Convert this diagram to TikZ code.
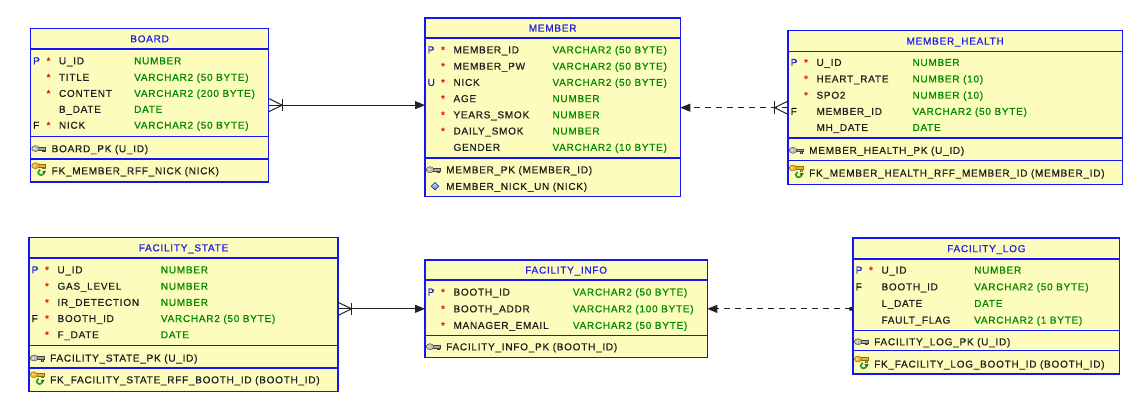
\documentclass[tikz,border=0pt]{standalone}
\usepackage{fontspec}
\newfontfamily\erfont{Liberation Sans}[LetterSpace=7.5,FakeBold=0.7]
\usetikzlibrary{arrows.meta,calc}

\definecolor{tblfill}{RGB}{252,252,188}
\definecolor{tblline}{RGB}{20,20,245}
\definecolor{titleblue}{RGB}{30,30,235}
\definecolor{typegreen}{RGB}{0,135,0}
\definecolor{starred}{RGB}{230,30,30}
\definecolor{linkgray}{RGB}{35,35,35}
\definecolor{keygray}{RGB}{170,170,165}
\definecolor{keygold}{RGB}{232,182,40}
\definecolor{fkgreen}{RGB}{40,160,40}

% table frame: id, left, top, right, bottom
\newcommand\ertable[5]{%
  \node[tbl, minimum width={#4-#2}, minimum height={#5-#3}] (#1)
    at ({(#2+#4)/2},{(#3+#5)/2}) {};}
% horizontal divider inside a table
\newcommand\divider[2]{\draw[sepline] (#1.west |- 0,#2) -- (#1.east |- 0,#2);}
% table caption: id, text, centre y
\newcommand\ertitle[3]{\node[title] (#1-title) at ($(#1.center |- 0,#3)+(0,3.6)$) {#2};}
% column row: id, left, type x, centre y, flag, mandatory mark, name, type
\newcommand\attr[8]{%
  \if\relax\detokenize{#5}\relax\else
    \node[flag#5] (#1-flag) at ({#2+2.5},{#4+3.6}) {#5};\fi
  \if\relax\detokenize{#6}\relax\else
    \node[star] (#1-req) at ({#2+18},{#4+3.6}) {*};\fi
  \node[colname] (#1-name) at ({#2+28.3},{#4+3.6}) {#7};
  \node[coltype] (#1-type) at ({#3},{#4+3.6}) {#8};}
% key row: id, left, centre y, icon, text
\newcommand\keyrow[5]{%
  \pic at ({#2},{#3}) {#4};
  \node[keytext] (#1) at ({#2+21},{#3+3.6}) {#5};}
% crow's foot with bar: point, direction (+1 right, -1 left)
\newcommand\crowfoot[2]{%
  \draw[rel] ($(#1)+(0,-6.6)$) -- ($(#1)+(#2*13.5,0)$) -- ($(#1)+(0,6.6)$);
  \draw[rel] ($(#1)+(#2*13.5,-6.2)$) -- ($(#1)+(#2*13.5,6.2)$);}

\begin{document}
\begin{tikzpicture}[x=1pt,y=-1pt,
  font=\erfont\fontsize{10}{12}\selectfont,
  tbl/.style={draw=tblline, fill=tblfill, line width=1.1pt, inner sep=0pt, outer sep=0pt},
  sepline/.style={draw=tblline, line width=1.1pt},
  title/.style={anchor=base, text=titleblue, inner sep=0pt},
  flagP/.style={anchor=base west, inner sep=0pt, text=titleblue},
  flagU/.style={anchor=base west, inner sep=0pt, text=titleblue},
  flagF/.style={anchor=base west, inner sep=0pt, text=black},
  star/.style={anchor=base, text=starred, inner sep=0pt},
  colname/.style={anchor=base west, inner sep=0pt, text=black!88},
  coltype/.style={anchor=base west, inner sep=0pt, text=typegreen},
  keytext/.style={anchor=base west, inner sep=0pt, text=black!88},
  rel/.style={draw=linkgray, line width=1pt},
  fkdash/.style={dash pattern=on 6pt off 5pt},
  tip/.style={-{Triangle[length=10pt,width=8pt]}},
  pkicon/.pic={
    \filldraw[fill=keygray, draw=gray!50!black, line width=0.4pt] (7,-1.4) rectangle (15,1.4);
    \filldraw[fill=keygray, draw=gray!50!black, line width=0.4pt] (12,1.4) rectangle (14.5,2.9);
    \filldraw[fill=keygray!80, draw=gray!50!black, line width=0.4pt] (5,0) ellipse (3.8 and 3);
    \fill[white] (4,0) circle (0.9);
  },
  fkicon/.pic={
    \filldraw[fill=keygold, draw=keygold!60!black, line width=0.4pt] (7,-6.4) rectangle (15,-3.6);
    \filldraw[fill=keygold, draw=keygold!60!black, line width=0.4pt] (12,-3.6) rectangle (14.5,-2.1);
    \filldraw[fill=keygold, draw=keygold!60!black, line width=0.4pt] (5,-5) ellipse (3.8 and 3);
    \fill[white] (4,-5) circle (0.9);
    \draw[fkgreen, line width=1.7pt] (13.5,1.5) arc (0:250:2.9);
    \fill[fkgreen!70!black] (11.8,0.2) -- (15.6,0.2) -- (13.7,3.4) -- cycle;
  },
  ukicon/.pic={
    \shadedraw[top color=cyan!25, bottom color=blue!65, draw=blue!45!black, line width=0.4pt]
      (10,-3.8) -- (13.8,0) -- (10,3.8) -- (6.2,0) -- cycle;
  }
]
\fill[white] (0,0) rectangle (1134,403);
\useasboundingbox (0,0) rectangle (1134,403);

% ---------------- BOARD ----------------
\ertable{board}{30.5}{28.3}{268.7}{182}
\divider{board}{49}
\divider{board}{136.7}
\divider{board}{159}
\ertitle{board}{BOARD}{38.7}
\attr{board-uid}{30.5}{134}{60.7}{P}{*}{U\_ID}{NUMBER}
\attr{board-title}{30.5}{134}{77.2}{}{*}{TITLE}{VARCHAR2 (50 BYTE)}
\attr{board-content}{30.5}{134}{93.3}{}{*}{CONTENT}{VARCHAR2 (200 BYTE)}
\attr{board-bdate}{30.5}{134}{109.2}{}{}{B\_DATE}{DATE}
\attr{board-nick}{30.5}{134}{125.1}{F}{*}{NICK}{VARCHAR2 (50 BYTE)}
\keyrow{board-pk}{30.5}{148.6}{pkicon}{BOARD\_PK (U\_ID)}
\keyrow{board-fk}{30.5}{170.7}{fkicon}{FK\_MEMBER\_RFF\_NICK (NICK)}

% ---------------- MEMBER ----------------
\ertable{member}{425}{18}{680.3}{196.7}
\divider{member}{38}
\divider{member}{158}
\ertitle{member}{MEMBER}{28}
\attr{member-id}{425}{552.3}{49.7}{P}{*}{MEMBER\_ID}{VARCHAR2 (50 BYTE)}
\attr{member-pw}{425}{552.3}{66.1}{}{*}{MEMBER\_PW}{VARCHAR2 (50 BYTE)}
\attr{member-nick}{425}{552.3}{82.3}{U}{*}{NICK}{VARCHAR2 (50 BYTE)}
\attr{member-age}{425}{552.3}{98.5}{}{*}{AGE}{NUMBER}
\attr{member-years}{425}{552.3}{114.7}{}{*}{YEARS\_SMOK}{NUMBER}
\attr{member-daily}{425}{552.3}{130.9}{}{*}{DAILY\_SMOK}{NUMBER}
\attr{member-gender}{425}{552.3}{147.2}{}{}{GENDER}{VARCHAR2 (10 BYTE)}
\keyrow{member-pk}{425}{169.7}{pkicon}{MEMBER\_PK (MEMBER\_ID)}
\keyrow{member-un}{425}{186.3}{ukicon}{MEMBER\_NICK\_UN (NICK)}

% ---------------- MEMBER_HEALTH ----------------
\ertable{mhealth}{788}{30.7}{1122.3}{184.7}
\divider{mhealth}{51.3}
\divider{mhealth}{138}
\divider{mhealth}{160.7}
\ertitle{mhealth}{MEMBER\_HEALTH}{41}
\attr{mh-uid}{788}{912.3}{62.3}{P}{*}{U\_ID}{NUMBER}
\attr{mh-heart}{788}{912.3}{78.8}{}{*}{HEART\_RATE}{NUMBER (10)}
\attr{mh-spo}{788}{912.3}{95.1}{}{*}{SPO2}{NUMBER (10)}
\attr{mh-member}{788}{912.3}{111.3}{F}{}{MEMBER\_ID}{VARCHAR2 (50 BYTE)}
\attr{mh-date}{788}{912.3}{127.4}{}{}{MH\_DATE}{DATE}
\keyrow{mh-pk}{788}{150.3}{pkicon}{MEMBER\_HEALTH\_PK (U\_ID)}
\keyrow{mh-fk}{788}{173}{fkicon}{FK\_MEMBER\_HEALTH\_RFF\_MEMBER\_ID (MEMBER\_ID)}

% ---------------- FACILITY_STATE ----------------
\ertable{fstate}{29}{237.3}{338}{391.3}
\divider{fstate}{258}
\divider{fstate}{345.7}
\divider{fstate}{368}
\ertitle{fstate}{FACILITY\_STATE}{247.7}
\attr{fs-uid}{29}{160.7}{269.7}{P}{*}{U\_ID}{NUMBER}
\attr{fs-gas}{29}{160.7}{286.1}{}{*}{GAS\_LEVEL}{NUMBER}
\attr{fs-ir}{29}{160.7}{302.3}{}{*}{IR\_DETECTION}{NUMBER}
\attr{fs-booth}{29}{160.7}{318.4}{F}{*}{BOOTH\_ID}{VARCHAR2 (50 BYTE)}
\attr{fs-date}{29}{160.7}{334.6}{}{*}{F\_DATE}{DATE}
\keyrow{fs-pk}{29}{358}{pkicon}{FACILITY\_STATE\_PK (U\_ID)}
\keyrow{fs-fk}{29}{379.7}{fkicon}{FK\_FACILITY\_STATE\_RFF\_BOOTH\_ID (BOOTH\_ID)}

% ---------------- FACILITY_INFO ----------------
\ertable{finfo}{425}{260}{707.3}{357.7}
\divider{finfo}{280}
\divider{finfo}{335.3}
\ertitle{finfo}{FACILITY\_INFO}{270}
\attr{fi-booth}{425}{572.7}{292}{P}{*}{BOOTH\_ID}{VARCHAR2 (50 BYTE)}
\attr{fi-addr}{425}{572.7}{308.7}{}{*}{BOOTH\_ADDR}{VARCHAR2 (100 BYTE)}
\attr{fi-mail}{425}{572.7}{325.3}{}{*}{MANAGER\_EMAIL}{VARCHAR2 (50 BYTE)}
\keyrow{fi-pk}{425}{346.7}{pkicon}{FACILITY\_INFO\_PK (BOOTH\_ID)}

% ---------------- FACILITY_LOG ----------------
\ertable{flog}{853}{238}{1119.7}{374}
\divider{flog}{259}
\divider{flog}{330.7}
\divider{flog}{350.7}
\ertitle{flog}{FACILITY\_LOG}{248.5}
\attr{fl-uid}{853}{974}{270}{P}{*}{U\_ID}{NUMBER}
\attr{fl-booth}{853}{974}{286.7}{F}{}{BOOTH\_ID}{VARCHAR2 (50 BYTE)}
\attr{fl-date}{853}{974}{303.3}{}{}{L\_DATE}{DATE}
\attr{fl-flag}{853}{974}{320}{}{}{FAULT\_FLAG}{VARCHAR2 (1 BYTE)}
\keyrow{fl-pk}{853}{341.7}{pkicon}{FACILITY\_LOG\_PK (U\_ID)}
\keyrow{fl-fk}{853}{364}{fkicon}{FK\_FACILITY\_LOG\_BOOTH\_ID (BOOTH\_ID)}

% ---------------- relationships ----------------
% BOARD.NICK -> MEMBER
\draw[rel, tip] (board.east) -- (member.west |- board.east);
\crowfoot{board.east}{1}
% MEMBER_HEALTH.MEMBER_ID -> MEMBER (optional)
\draw[rel, fkdash, tip] (mhealth.west) -- (member.east |- mhealth.west);
\crowfoot{mhealth.west}{-1}
% FACILITY_STATE.BOOTH_ID -> FACILITY_INFO
\coordinate (fs-end) at (fstate.east |- finfo.west);
\draw[rel, tip] (fs-end) -- (finfo.west);
\crowfoot{fs-end}{1}
% FACILITY_LOG.BOOTH_ID -> FACILITY_INFO (optional, one-to-one)
\coordinate (fl-end) at ($(flog.west |- finfo.east)+(-2,0)$);
\draw[rel, fkdash, tip] (fl-end) -- (finfo.east);
\fill[linkgray] (fl-end) circle (2.1);
\end{tikzpicture}
\end{document}
